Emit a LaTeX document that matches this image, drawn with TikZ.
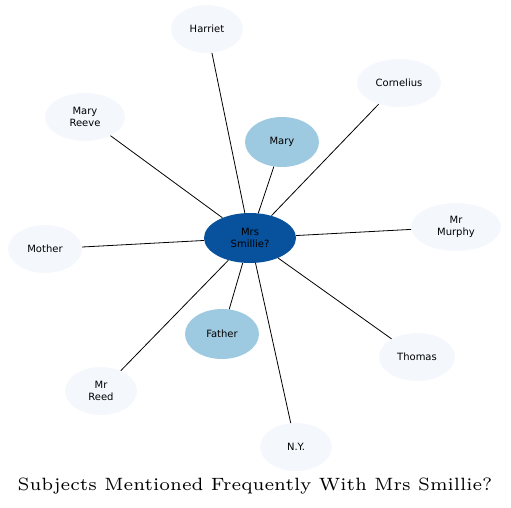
\documentclass[tikz,border=0pt]{standalone}
\usepackage{fontspec}
\setsansfont{DejaVu Sans}
\usetikzlibrary{shapes.geometric}
\definecolor{darkb}{HTML}{08519C}
\definecolor{midb}{HTML}{9ECAE1}
\definecolor{lightb}{HTML}{F4F8FD}
\tikzset{
  topic/.style={ellipse, inner sep=0pt, align=center, font=\sffamily\fontsize{10}{11.5}\selectfont, text=black},
  light/.style={topic, fill=lightb, minimum height=48pt},
  mid/.style={topic, fill=midb, minimum height=50pt},
  hub/.style={topic, fill=darkb, minimum width=92pt, minimum height=50pt},
  link/.style={draw=black, line width=0.8pt}
}
\begin{document}
\begin{tikzpicture}[x=1pt,y=-1pt]
\useasboundingbox (0,0) rectangle (511,508);
\node[hub] (c) at (250,238) {Mrs\\Smillie?};
\node[light, minimum width=72pt] (harriet) at (207,29) {Harriet};
\node[light, minimum width=84pt] (corn) at (399,83) {Cornelius};
\node[mid, minimum width=74pt] (mary) at (282,142) {Mary};
\node[light, minimum width=80pt] (mreeve) at (85,117) {Mary\\Reeve};
\node[light, minimum width=74pt] (mother) at (45,249) {Mother};
\node[light, minimum width=90pt] (murphy) at (456,227) {Mr\\Murphy};
\node[mid, minimum width=74pt] (father) at (222,334) {Father};
\node[light, minimum width=76pt] (thomas) at (417,357) {Thomas};
\node[light, minimum width=72pt] (reed) at (101,391) {Mr\\Reed};
\node[light, minimum width=72pt] (ny) at (296,447) {N.Y.};
\foreach \n in {harriet,corn,mary,mreeve,mother,murphy,father,thomas,reed,ny}
  \draw[link] (c) -- (\n);
\node[inner sep=0pt] (title) at (255,486) {\scalebox{2.94}[2.97]{\fontsize{6}{7}\selectfont Subjects Mentioned Frequently With Mrs Smillie?}};
\end{tikzpicture}
\end{document}
